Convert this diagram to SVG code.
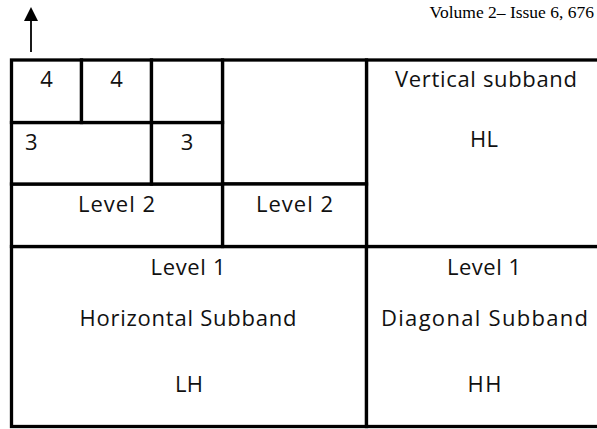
<svg xmlns="http://www.w3.org/2000/svg" width="597" height="429" viewBox="0 0 597 429">
<defs>
<style>
.cell{fill:#fff;stroke:#000;stroke-width:3.3}
.t{font-family:"Open Sans",Lato,sans-serif;font-size:22px;fill:#111;text-anchor:middle}
.hdr{font-family:"Liberation Serif",serif;font-size:17.5px;fill:#000;text-anchor:end}
</style>
<marker id="ah" markerWidth="14" markerHeight="14" refX="7" refY="0" orient="auto" markerUnits="userSpaceOnUse" viewBox="0 -7 14 14">
<path d="M0,-7 L14,0 L0,7 Z" fill="#000"/>
</marker>
</defs>
<rect width="597" height="429" fill="#fff"/>
<text class="hdr" x="594" y="18">Volume 2– Issue 6, 676</text>
<g id="connectors">
<line x1="31" y1="52" x2="31" y2="14" stroke="#000" stroke-width="1.8" marker-end="url(#ah)"/>
</g>
<g id="LH"><rect class="cell" x="11.5" y="246.5" width="355" height="180"/>
<text class="t" x="188" y="275" textLength="75">Level 1</text><text class="t" x="188" y="326" textLength="217">Horizontal Subband</text><text class="t" x="189" y="392" textLength="28">LH</text></g>
<g id="HH"><rect class="cell" x="366.5" y="246.5" width="240" height="180"/>
<text class="t" x="484" y="275" textLength="74">Level 1</text><text class="t" x="484.5" y="326" textLength="207">Diagonal Subband</text><text class="t" x="484.5" y="392" textLength="34">HH</text></g>
<g id="HL"><rect class="cell" x="366.5" y="60" width="240" height="186.5"/>
<text class="t" x="486" y="87" textLength="182">Vertical subband</text><text class="t" x="484" y="147" textLength="28">HL</text></g>
<g id="L2-vertical"><rect class="cell" x="222.5" y="60" width="144" height="124"/></g>
<g id="L2-right"><rect class="cell" x="222.5" y="184" width="144" height="62.5"/>
<text class="t" x="294.5" y="212" textLength="77">Level 2</text></g>
<g id="L2-left"><rect class="cell" x="11.5" y="184" width="211" height="62.5"/>
<text class="t" x="116.5" y="212" textLength="77">Level 2</text></g>
<g id="L3-left"><rect class="cell" x="11.5" y="122.5" width="140" height="61.5"/>
<text class="t" x="25" y="150" style="text-anchor:start">3</text></g>
<g id="L3-right"><rect class="cell" x="151.5" y="122.5" width="71" height="61.5"/>
<text class="t" x="187" y="150">3</text></g>
<g id="L4-a"><rect class="cell" x="11.5" y="60" width="70" height="62.5"/>
<text class="t" x="46.5" y="87">4</text></g>
<g id="L4-b"><rect class="cell" x="81.5" y="60" width="70" height="62.5"/>
<text class="t" x="116.5" y="87">4</text></g>
<g id="L4-c"><rect class="cell" x="151.5" y="60" width="71" height="62.5"/></g>
</svg>
